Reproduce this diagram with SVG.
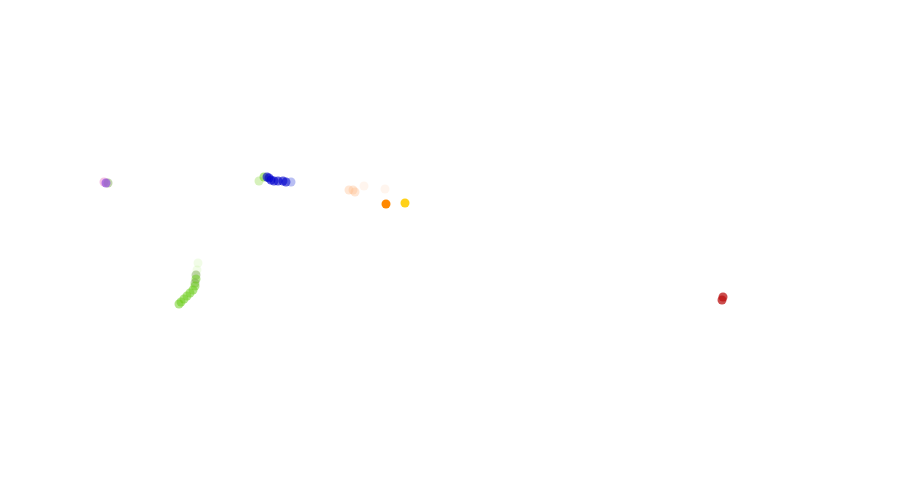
<svg xmlns="http://www.w3.org/2000/svg" width="900" height="498" viewBox="0 0 900 498">
<style>
circle{r:4.5px}
.pu{fill:#9955dd;fill-opacity:.75}
.pk{fill:#ee88cc;fill-opacity:.5}
.gr{fill:#66cc11;fill-opacity:.5}
.gd{fill:#669933;fill-opacity:.4}
.gl{fill:#99dd55;fill-opacity:.4}
.gf{fill:#bbee88;fill-opacity:.2}
.bl{fill:#0000cc;fill-opacity:.6}
.bf{fill:#3344dd;fill-opacity:.35}
.pe{fill:#ffbb88;fill-opacity:.35}
.pf{fill:#ffccaa;fill-opacity:.2}
.or{fill:#ff8800}
.ye{fill:#ffcc00;fill-opacity:.9}
.rd{fill:#bb1111;fill-opacity:.75}
</style>
<rect width="900" height="498" fill="#fff"/>
<g id="purple">
<circle class="pk" cx="104" cy="182"/>
<circle class="gd" cx="108" cy="183"/>
<circle class="pu" cx="106" cy="183"/>
</g>
<g id="blue">
<circle class="gl" cx="259" cy="181"/>
<circle class="gr" cx="264" cy="177"/>
<circle class="bl" cx="267" cy="177"/>
<circle class="bl" cx="269" cy="178"/>
<circle class="bl" cx="271" cy="180"/>
<circle class="bl" cx="274" cy="181"/>
<circle class="bl" cx="278" cy="181"/>
<circle class="bl" cx="283" cy="181"/>
<circle class="bl" cx="286" cy="182"/>
<circle class="bf" cx="291" cy="182"/>
</g>
<g id="orange">
<circle class="pe" cx="349" cy="190"/>
<circle class="pe" cx="353" cy="190"/>
<circle class="pe" cx="355" cy="192"/>
<circle class="pf" cx="364" cy="186"/>
<circle class="pf" cx="385" cy="189"/>
<circle class="or" cx="386" cy="204"/>
<circle class="ye" cx="405" cy="203"/>
</g>
<g id="green">
<circle class="gf" cx="198" cy="263"/>
<circle class="gf" cx="197" cy="270"/>
<circle class="gd" cx="196" cy="275"/>
<circle class="gr" cx="196" cy="279"/>
<circle class="gd" cx="195" cy="283"/>
<circle class="gr" cx="195" cy="286"/>
<circle class="gr" cx="193" cy="290"/>
<circle class="gr" cx="190" cy="293"/>
<circle class="gr" cx="187" cy="296"/>
<circle class="gr" cx="184" cy="299"/>
<circle class="gr" cx="181" cy="302"/>
<circle class="gr" cx="179" cy="304"/>
</g>
<g id="red">
<circle class="rd" cx="722" cy="300"/>
<circle class="rd" cx="723" cy="297"/>
</g>
<g id="connectors"/>
</svg>
